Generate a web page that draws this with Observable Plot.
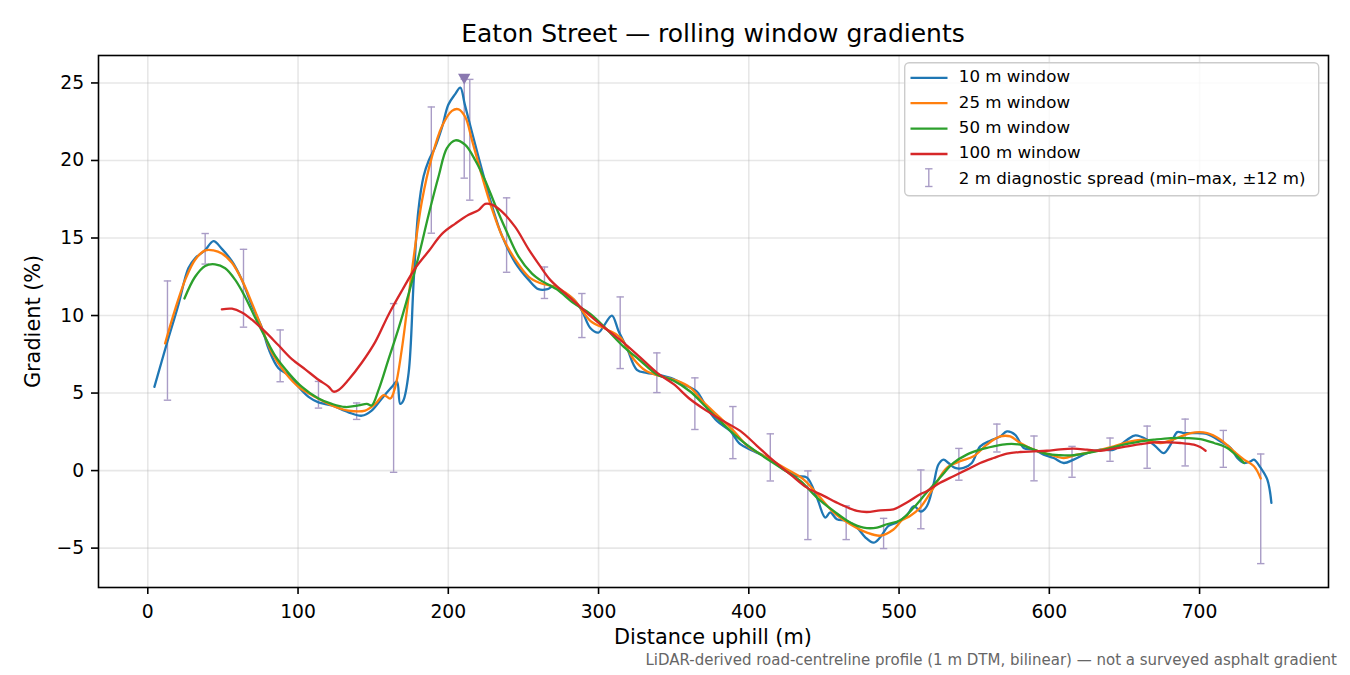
<!DOCTYPE html>
<html>
<head>
<meta charset="utf-8">
<script src="https://cdn.jsdelivr.net/npm/d3@7"></script>
<script src="https://cdn.jsdelivr.net/npm/@observablehq/plot@0.6"></script>
<style>
  body { margin: 0; background: #fff; }
  #wrap { position: relative; width: 1350px; height: 675px; background: #fff; font-family: "DejaVu Sans", sans-serif; color: #000; }
  #wrap svg.plot { display: block; }
  .ov { position: absolute; line-height: 1; white-space: nowrap; }
</style>
</head>
<body>
<div id="wrap"></div>
<script>
// ---------- data ----------
const titleText = "Eaton Street — rolling window gradients";
const xLabel = "Distance uphill (m)";
const yLabel = "Gradient (%)";
const captionText = "LiDAR-derived road-centreline profile (1 m DTM, bilinear) — not a surveyed asphalt gradient";
const seriesNames = ["10 m window", "25 m window", "50 m window", "100 m window"];
const spreadName = "2 m diagnostic spread (min–max, ±12 m)";
const seriesColors = ["#1f77b4", "#ff7f0e", "#2ca02c", "#d62728"];

const xTicks = [0, 100, 200, 300, 400, 500, 600, 700];
const yTicks = [-5, 0, 5, 10, 15, 20, 25];
const xDomain = [-32.8, 785.8];
const yDomain = [-7.54, 26.77];

const dist10 = [4.4,12.7,20.4,27,31.5,38,43.7,49.3,56,62.6,69,76,80.4,87,94.8,100.3,107,113.6,122.5,133.6,142.5,149,155.8,162.5,165.8,168,170,173.6,177,180,183.6,187,191,196,200,204.7,208,211,215.8,222.4,229,235.7,244.6,253.5,260,266,270,276.7,283.4,289,294.5,300,303.3,308.9,313.3,318.9,325.5,332,338.8,350,356.6,365.4,372,378.8,387.6,394.3,403,414.3,423,432,438.7,445.3,450.9,454.2,458.6,465.3,472,477.5,483,487.5,493,498.6,505,510,514.5,518.5,522.9,526.2,529.6,532.9,537.3,542.9,548.4,554,560.7,567.3,571.8,577.3,582.9,589.6,596.2,602.9,609.6,616.2,625.1,634,642.9,651.8,657.3,665.1,670.7,676.2,680.7,685.1,689.6,696.2,705.1,714,720.7,725.1,729.6,734,736.2,740.7,745.1,747.8];
const grad10 = [5.4,8.2,10.7,13.05,13.7,14.2,14.8,14.3,13.5,12.3,10.7,9.2,7.85,6.6,6.1,5.4,4.75,4.4,4.2,3.76,3.54,3.87,4.65,5.4,5.75,4.3,4.5,6.3,12.3,16.7,19.0,20.0,20.8,22.2,23.6,24.3,24.7,23.6,21.8,19.4,17.1,15.15,13.4,12.3,11.7,11.7,11.9,11.5,11.05,10.3,9.2,8.9,9.3,10.0,9.0,7.9,6.5,6.3,6.2,5.9,5.55,5.1,4.05,3.2,2.55,1.7,1.27,0.73,0.09,-0.34,-0.45,-1.74,-3.03,-2.7,-3.14,-3.25,-3.68,-4.3,-4.65,-4.3,-3.57,-3.35,-2.9,-2.3,-2.65,-2.3,-0.9,0.39,0.71,0.49,0.17,0.17,0.49,1.56,1.93,2.2,2.53,2.31,1.46,1.35,1.03,0.81,0.49,0.71,1.13,1.35,1.35,1.99,2.27,1.99,1.56,1.13,1.67,2.48,2.42,2.42,2.35,1.88,1.46,0.81,0.49,0.6,0.71,0.17,-0.58,-2.08];

const dist25 = [11.5,18.2,24.9,31.5,38.2,43.7,49.3,56,62.6,69.3,75.9,82.6,91.5,100.3,111.4,122.5,133.6,144.7,151.4,157,161.4,164.7,169.1,175.8,182.5,189,195.8,202.4,206.9,211.3,215.8,222.4,229,235.7,244.6,253.5,261,272,283.4,294.5,305.5,314.4,323.3,332,341,352,361,370,381,390,399,412,425.3,436.4,447.5,456.4,467.5,478.6,487.5,496.3,502,507.3,514,522.9,531.8,540.7,549.6,558.4,567.3,574,580.7,589.6,600.7,609.6,618.4,629.6,642.9,654,662.9,674,685.1,694,705.1,714,722.9,729.6,736.2,740.7];
const grad25 = [8.2,10.4,12.3,13.6,14.2,14.2,14.0,13.4,12.3,10.8,9.2,7.6,6.3,5.4,4.75,4.2,3.87,3.87,4.3,4.87,4.65,5.4,7.85,12.9,17.4,20.2,22.2,23.2,23.3,22.8,21.3,19.0,16.9,15.15,13.6,12.5,12.1,11.8,11.05,9.66,9.1,8.6,7.2,6.4,6.1,5.8,5.35,4.4,3.4,2.55,1.6,0.84,0.09,-0.56,-1.74,-2.7,-3.46,-4.0,-4.2,-3.8,-3.2,-2.93,-2.4,-1.11,0.17,0.6,0.92,1.67,2.2,2.2,1.78,1.35,1.03,0.81,1.03,1.24,1.56,1.88,1.99,1.78,2.1,2.42,2.42,1.99,1.24,0.71,0.28,-0.51];

const dist50 = [24.4,31.5,38.2,44.8,51.5,58.2,64.8,71.5,78.1,84.8,93.7,102.6,113.6,122.5,131.4,140.3,145.8,149,153.6,160.3,167,173.6,180.2,186.9,193.6,199.1,204.7,211.3,218,224.6,231.3,238,246.8,255.7,261,272,283.4,294.5,305.5,316.6,327.7,338.8,350,361,372,383,394.3,407.6,421,434.3,445.3,456.4,467.5,476.4,485.3,491.9,500.8,509.7,518.5,527.3,536.2,545.1,554,562.9,571.8,580.7,589.6,598.4,607.3,616.2,625.1,636.2,647.3,658.4,669.6,680.7,691.8,700.7,709.6,718.4,725.1,729.6];
const grad50 = [11.1,12.5,13.2,13.3,13.05,12.3,11.2,9.85,8.6,7.4,6.3,5.4,4.65,4.3,4.1,4.2,4.3,4.2,5.2,7.2,9.2,11.4,13.8,16.5,19.0,20.8,21.3,21.0,20.0,18.7,17.1,15.6,13.8,12.7,12.3,11.7,10.8,10.1,9.1,8.0,7.1,6.2,5.8,5.1,4.05,3.0,2.0,1.05,0.2,-0.67,-1.74,-2.6,-3.35,-3.68,-3.68,-3.46,-3.2,-2.4,-1.4,-0.45,0.49,1.03,1.35,1.56,1.71,1.67,1.35,1.07,0.99,0.99,1.13,1.35,1.63,1.84,1.99,2.1,2.1,2.03,1.78,1.46,0.92,0.49];

const dist100 = [49.3,56,62.6,69.3,78.1,87,95.9,104.8,113.6,120.3,123.6,127,133.6,142.5,151.4,160.3,169.1,178,187,195.8,204.7,213.5,220.2,224.6,229,235.7,244.6,253.5,261,267.8,274.5,283.4,294.5,305.5,316.6,327.7,338.8,350,361,372,383,394.3,405.4,416.6,427.6,438.7,449.8,460.8,472,478.6,487.5,496.3,505.2,514,518.4,527.3,536.2,545.1,554,562.9,571.8,580.7,589.6,598.4,607.3,616.2,625.1,634,642.9,651.8,660.7,669.6,678.4,687.3,696.2,700.7,704];
const grad100 = [10.4,10.44,10.2,9.73,8.96,8.08,7.19,6.53,5.86,5.42,5.09,5.2,5.86,6.97,8.3,10.07,11.6,13.05,14.16,15.27,15.93,16.5,16.8,17.2,17.15,16.7,15.7,14.27,13.2,12.3,11.7,10.95,9.98,9.1,8.26,7.3,6.32,5.57,4.6,3.85,3.2,2.56,1.6,0.62,-0.24,-1.1,-1.63,-2.17,-2.6,-2.67,-2.56,-2.5,-2.06,-1.53,-1.33,-0.79,-0.36,0.06,0.49,0.81,1.09,1.2,1.24,1.28,1.37,1.41,1.35,1.28,1.41,1.56,1.71,1.82,1.82,1.78,1.67,1.5,1.28];

// 2 m diagnostic spread: centre distance, min, max
const spreadDist = [13.1,38.2,63.7,88.1,113.6,139,163.6,188.7,210.6,214.3,238.8,264,288.9,314.4,338.8,364.1,389.4,414.3,439.3,464.8,489.7,514.5,539.8,565.1,589.8,615.1,640.4,665.1,690.4,715.8,740.7];
const spreadMin = [4.54,13.32,9.25,5.73,4.03,3.30,-0.11,15.31,18.86,17.44,12.79,11.1,8.58,6.58,5.03,2.65,0.77,-0.67,-4.45,-4.45,-5.03,-3.75,-0.62,1.2,-0.66,-0.43,0.6,0.15,0.3,0.21,-6.0];
const spreadMax = [12.23,15.29,14.27,9.07,5.75,4.36,10.77,23.45,25.25,25.23,17.59,13.13,11.42,11.2,7.59,5.98,4.13,2.37,-0.02,-2.28,-3.08,0.04,1.43,3.0,2.23,1.56,2.1,2.87,3.32,2.59,1.07];

// peak marker
const peakDist = [210.6];
const peakGrad = [25.24];

// ---------- build tables ----------
const series = [
  {name: seriesNames[0], d: dist10, g: grad10},
  {name: seriesNames[1], d: dist25, g: grad25},
  {name: seriesNames[2], d: dist50, g: grad50},
  {name: seriesNames[3], d: dist100, g: grad100}
];
const lineRows = series.flatMap(s => s.d.map((d, i) => ({series: s.name, d, g: s.g[i]})));
const spread = spreadDist.map((d, i) => ({d, lo: spreadMin[i], hi: spreadMax[i]}));
const peak = peakDist.map((d, i) => ({d, g: peakGrad[i]}));

const barColor = "#a99cc6";
const triColor = "#8a78b0";
const capSymbol = { draw(ctx) { ctx.moveTo(-3.7, 0); ctx.lineTo(3.7, 0); } };
const triDown = { draw(ctx) { ctx.moveTo(-6.2, -5.4); ctx.lineTo(6.2, -5.4); ctx.lineTo(0, 5.4); ctx.closePath(); } };
const fmt = d => d < 0 ? "\u2212" + Math.abs(d) : String(d);

const chart = Plot.plot({
  width: 1350,
  height: 675,
  marginLeft: 98, marginRight: 22, marginTop: 55, marginBottom: 88,
  inset: 0,
  style: {fontFamily: "'DejaVu Sans', sans-serif", fontSize: "18.75px", background: "#fff", color: "#000", overflow: "visible"},
  x: {domain: xDomain, label: null},
  y: {domain: yDomain, label: null},
  color: {domain: seriesNames, range: seriesColors},
  marks: [
    Plot.gridX({ticks: xTicks, stroke: "#b0b0b0", strokeOpacity: 0.3, strokeWidth: 1.6}),
    Plot.gridY({ticks: yTicks, stroke: "#b0b0b0", strokeOpacity: 0.3, strokeWidth: 1.6}),
    Plot.ruleX(spread, {x: "d", y1: "lo", y2: "hi", stroke: barColor, strokeWidth: 1.4}),
    Plot.dot(spread, {x: "d", y: "lo", symbol: capSymbol, fill: "none", stroke: barColor, strokeWidth: 1.4}),
    Plot.dot(spread, {x: "d", y: "hi", symbol: capSymbol, fill: "none", stroke: barColor, strokeWidth: 1.4}),
    ...seriesNames.map(name => Plot.line(lineRows.filter(r => r.series === name), {
      x: "d", y: "g", stroke: "series", strokeWidth: 2.3, curve: "catmull-rom", strokeLinejoin: "round"
    })),
    Plot.dot(peak, {x: "d", y: "g", symbol: triDown, fill: triColor, stroke: "none"}),
    Plot.frame({stroke: "#000", strokeWidth: 1.6}),
    Plot.axisX({ticks: xTicks, tickSize: 7, tickPadding: 10.5, fontSize: 18.75, strokeWidth: 1.6, stroke: "#000", label: null, tickFormat: fmt}),
    Plot.axisY({ticks: yTicks, tickSize: 7, tickPadding: 7.3, fontSize: 18.75, strokeWidth: 1.6, stroke: "#000", label: null, tickFormat: fmt})
  ]
});

const wrap = document.getElementById("wrap");
chart.classList.add("plot");
wrap.appendChild(chart);

// ---------- overlay texts ----------
function addDiv(text, css) {
  const el = document.createElement("div");
  el.className = "ov";
  el.textContent = text;
  Object.assign(el.style, css);
  wrap.appendChild(el);
  return el;
}
// title: font 25px, baseline ~42.3
addDiv(titleText, {left: "98px", width: "1230px", textAlign: "center", top: (42.3 - 0.846 * 25) + "px", fontSize: "25px", height: "25px"});
// x label: font 20.83px, baseline ~644.5
addDiv(xLabel, {left: "98px", width: "1230px", textAlign: "center", top: (644.5 - 0.846 * 20.83) + "px", fontSize: "20.83px", height: "20.83px"});
// y label: rotated, baseline at x=40, centred at y=321
const F = 20.83, W = 300;
addDiv(yLabel, {left: (40 - 0.346 * F - W / 2) + "px", top: (321 - F / 2) + "px", width: W + "px", height: F + "px", textAlign: "center", fontSize: F + "px", transform: "rotate(-90deg)"});
// caption: right-aligned at 1337, font 15px, baseline ~665.5
addDiv(captionText, {right: (1350 - 1337) + "px", top: (665.5 - 0.846 * 15) + "px", fontSize: "15px", height: "15px", color: "#666"});

// ---------- legend ----------
const ns = "http://www.w3.org/2000/svg";
const leg = document.createElementNS(ns, "svg");
leg.setAttribute("width", 416); leg.setAttribute("height", 135);
Object.assign(leg.style, {position: "absolute", left: "903.5px", top: "61.5px", overflow: "visible"});
function el(tag, attrs, text) {
  const e = document.createElementNS(ns, tag);
  for (const k in attrs) e.setAttribute(k, attrs[k]);
  if (text != null) e.textContent = text;
  leg.appendChild(e);
  return e;
}
el("rect", {x: 0.7, y: 0.7, width: 414, height: 133, rx: 4.5, fill: "#fff", "fill-opacity": 0.8, stroke: "#cccccc", "stroke-width": 1.4});
const rowBase = [20.2, 45.6, 71.0, 96.4, 121.8];
seriesNames.forEach((name, i) => {
  el("line", {x1: 6.5, x2: 43.5, y1: rowBase[i] - 4.4, y2: rowBase[i] - 4.4, stroke: seriesColors[i], "stroke-width": 2.3});
  el("text", {x: 54.8, y: rowBase[i], "font-family": "'DejaVu Sans', sans-serif", "font-size": 16.67, fill: "#000"}, name);
});
const ex = 24.8, et = 106.8, eb = 124.5;
el("line", {x1: ex, x2: ex, y1: et, y2: eb, stroke: barColor, "stroke-width": 1.4});
el("line", {x1: ex - 3.7, x2: ex + 3.7, y1: et, y2: et, stroke: barColor, "stroke-width": 1.4});
el("line", {x1: ex - 3.7, x2: ex + 3.7, y1: eb, y2: eb, stroke: barColor, "stroke-width": 1.4});
el("text", {x: 54.8, y: rowBase[4], "font-family": "'DejaVu Sans', sans-serif", "font-size": 16.67, fill: "#000"}, spreadName);
wrap.appendChild(leg);
</script>
</body>
</html>
